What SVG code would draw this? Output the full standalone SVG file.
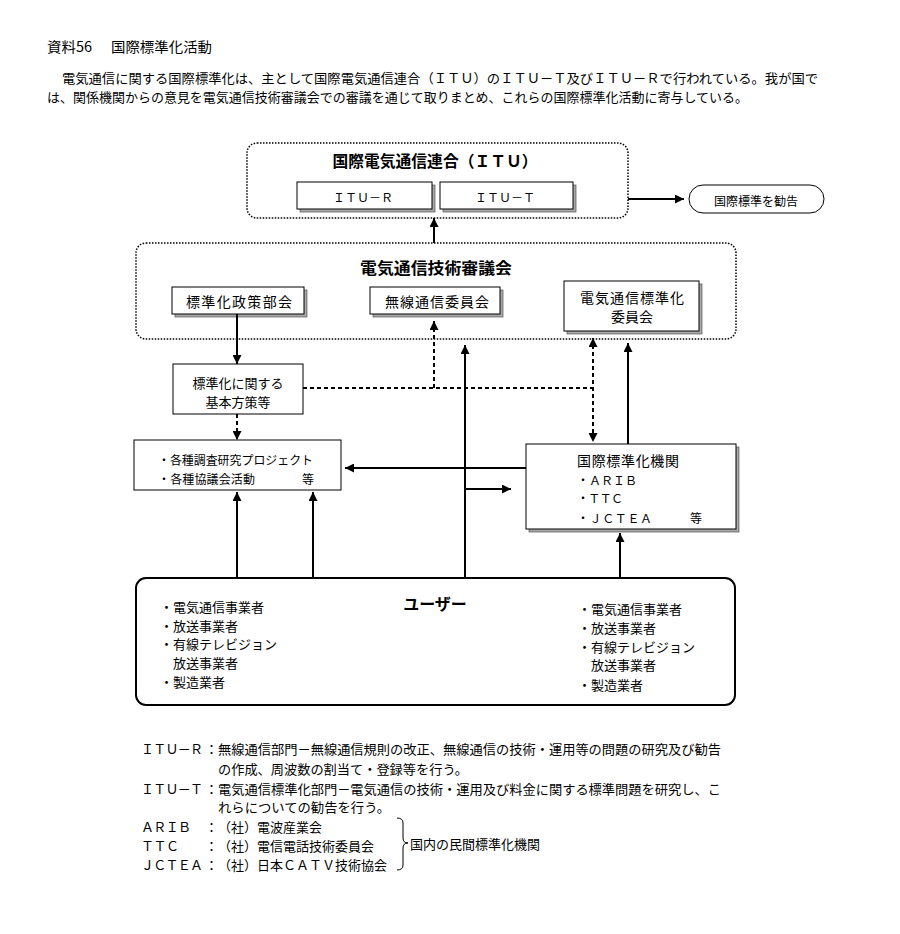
<svg xmlns="http://www.w3.org/2000/svg" width="900" height="934" viewBox="0 0 900 934">
<style>
text{font-family:"Noto Sans CJK JP","Noto Sans",sans-serif;fill:#000;dominant-baseline:central}
.t13{font-size:13px}
.t12{font-size:12px}
.t14{font-size:14px}
.big{font-size:16px;font-weight:bold}
.dotbox{fill:none;stroke:#000;stroke-width:1.5;stroke-dasharray:1.5 1.5}
.box{fill:#fff;stroke:#000;stroke-width:1}
.shadow{fill:#a8a8a8;stroke:#555;stroke-width:0.7}
.ln{fill:none;stroke:#000;stroke-width:2}
.dash{fill:none;stroke:#000;stroke-width:2;stroke-dasharray:4 3}
.mid{text-anchor:middle}
</style>
<defs>
<marker id="ah" viewBox="0 0 10 10" refX="10" refY="5" markerWidth="10" markerHeight="9" markerUnits="userSpaceOnUse" orient="auto-start-reverse">
<path d="M0,0 L10,5 L0,10 z" fill="#000"/>
</marker>
</defs>
<rect width="900" height="934" fill="#fff"/>

<g id="header">
<text class="t14" x="47" y="46" textLength="45" lengthAdjust="spacingAndGlyphs">資料56</text>
<text class="t14" x="111" y="46" textLength="101" lengthAdjust="spacingAndGlyphs">国際標準化活動</text>
<text class="t13" x="62" y="77" textLength="756" lengthAdjust="spacingAndGlyphs">電気通信に関する国際標準化は、主として国際電気通信連合（ＩＴＵ）のＩＴＵ－Ｔ及びＩＴＵ－Ｒで行われている。我が国で</text>
<text class="t13" x="47" y="96" textLength="701" lengthAdjust="spacingAndGlyphs">は、関係機関からの意見を電気通信技術審議会での審議を通じて取りまとめ、これらの国際標準化活動に寄与している。</text>
</g>

<g id="itu">
<rect class="dotbox" x="247" y="143" width="381" height="75" rx="10"/>
<text class="big mid" x="435" y="160" textLength="205" lengthAdjust="spacingAndGlyphs">国際電気通信連合（ＩＴＵ）</text>
</g>
<g id="itu-r">
<rect class="shadow" x="300" y="185" width="135" height="27"/>
<rect class="box" x="297" y="182" width="135" height="27"/>
<text class="t12 mid" x="363" y="196" textLength="60" lengthAdjust="spacing">ＩＴＵ－Ｒ</text>
</g>
<g id="itu-t">
<rect class="shadow" x="443" y="185" width="133" height="27"/>
<rect class="box" x="440" y="182" width="133" height="27"/>
<text class="t12 mid" x="505" y="196" textLength="60" lengthAdjust="spacing">ＩＴＵ－Ｔ</text>
</g>
<g id="recommend">
<rect class="box" x="689" y="185" width="135" height="28" rx="14"/>
<text class="t12 mid" x="756" y="200">国際標準を勧告</text>
</g>

<g id="council">
<rect class="dotbox" x="136" y="243" width="600" height="96" rx="10"/>
<text class="big mid" x="436" y="267" textLength="152" lengthAdjust="spacingAndGlyphs">電気通信技術審議会</text>
</g>
<g id="policy">
<rect class="shadow" x="175" y="290" width="132" height="27"/>
<rect class="box" x="172" y="287" width="132" height="27"/>
<text class="t14 mid" x="239" y="301" textLength="106" lengthAdjust="spacing">標準化政策部会</text>
</g>
<g id="radio">
<rect class="shadow" x="373" y="290" width="130" height="27"/>
<rect class="box" x="370" y="287" width="130" height="27"/>
<text class="t14 mid" x="437" y="301" textLength="104" lengthAdjust="spacing">無線通信委員会</text>
</g>
<g id="telecom-std">
<rect class="shadow" x="567" y="284" width="135" height="50"/>
<rect class="box" x="564" y="281" width="135" height="50"/>
<text class="t14 mid" x="632" y="297" textLength="104" lengthAdjust="spacing">電気通信標準化</text>
<text class="t14 mid" x="632" y="316" textLength="42" lengthAdjust="spacing">委員会</text>
</g>

<g id="basic-policy">
<rect class="box" x="173" y="364" width="130" height="50"/>
<text class="t13 mid" x="238" y="382">標準化に関する</text>
<text class="t13 mid" x="238" y="401">基本方策等</text>
</g>

<g id="projects">
<rect class="box" x="134" y="440" width="207" height="50"/>
<text class="t12" x="158" y="459" textLength="155" lengthAdjust="spacingAndGlyphs">・各種調査研究プロジェクト</text>
<text class="t12" x="158" y="478" textLength="97" lengthAdjust="spacing">・各種協議会活動</text>
<text class="t12" x="302" y="478">等</text>
</g>

<g id="intl-org">
<rect class="shadow" x="529" y="447" width="210" height="85"/>
<rect class="box" x="526" y="444" width="210" height="85"/>
<text class="t14" x="577" y="460" textLength="102" lengthAdjust="spacing">国際標準化機関</text>
<text class="t12" x="577" y="479" textLength="60" lengthAdjust="spacing">・ＡＲＩＢ</text>
<text class="t12" x="577" y="497" textLength="46" lengthAdjust="spacing">・ＴＴＣ</text>
<text class="t12" x="577" y="517" textLength="75" lengthAdjust="spacing">・ＪＣＴＥＡ</text>
<text class="t12" x="690" y="517">等</text>
</g>

<g id="users">
<rect x="136" y="578" width="599" height="127" rx="10" fill="#fff" stroke="#000" stroke-width="2"/>
<text class="big mid" x="435" y="603">ユーザー</text>
<text class="t13" x="160" y="606">・電気通信事業者</text>
<text class="t13" x="160" y="625">・放送事業者</text>
<text class="t13" x="160" y="643">・有線テレビジョン</text>
<text class="t13" x="160" y="662">　放送事業者</text>
<text class="t13" x="160" y="681">・製造業者</text>
<text class="t13" x="578" y="608">・電気通信事業者</text>
<text class="t13" x="578" y="627">・放送事業者</text>
<text class="t13" x="578" y="646">・有線テレビジョン</text>
<text class="t13" x="578" y="664">　放送事業者</text>
<text class="t13" x="578" y="684">・製造業者</text>
</g>

<g id="connectors">
<line class="ln" x1="628" y1="199" x2="684" y2="199" marker-end="url(#ah)"/>
<line class="ln" x1="434" y1="243" x2="434" y2="218" marker-end="url(#ah)"/>
<line class="ln" x1="237" y1="314" x2="237" y2="364" marker-end="url(#ah)"/>
<line class="dash" x1="237" y1="414" x2="237" y2="440" marker-end="url(#ah)"/>
<polyline class="dash" points="303,388 593,388"/>
<line class="dash" x1="434" y1="388" x2="434" y2="321" marker-end="url(#ah)"/>
<line class="dash" x1="593" y1="338" x2="593" y2="442" marker-start="url(#ah)" marker-end="url(#ah)"/>
<line class="ln" x1="465" y1="578" x2="465" y2="345" marker-end="url(#ah)"/>
<line class="ln" x1="628" y1="444" x2="628" y2="343" marker-end="url(#ah)"/>
<line class="ln" x1="526" y1="468" x2="345" y2="468" marker-end="url(#ah)"/>
<line class="ln" x1="465" y1="489" x2="511" y2="489" marker-end="url(#ah)"/>
<line class="ln" x1="237" y1="578" x2="237" y2="492" marker-end="url(#ah)"/>
<line class="ln" x1="313" y1="578" x2="313" y2="492" marker-end="url(#ah)"/>
<line class="ln" x1="620" y1="578" x2="620" y2="533" marker-end="url(#ah)"/>
</g>

<g id="notes">
<text class="t13" x="141" y="748" textLength="62" lengthAdjust="spacing">ＩＴＵ－Ｒ</text>
<text class="t13" x="205" y="748">：</text>
<text class="t13" x="218" y="748" textLength="503" lengthAdjust="spacingAndGlyphs">無線通信部門－無線通信規則の改正、無線通信の技術・運用等の問題の研究及び勧告</text>
<text class="t13" x="218" y="768" textLength="250" lengthAdjust="spacingAndGlyphs">の作成、周波数の割当て・登録等を行う。</text>
<text class="t13" x="141" y="788" textLength="62" lengthAdjust="spacing">ＩＴＵ－Ｔ</text>
<text class="t13" x="205" y="788">：</text>
<text class="t13" x="218" y="788" textLength="503" lengthAdjust="spacingAndGlyphs">電気通信標準化部門－電気通信の技術・運用及び料金に関する標準問題を研究し、こ</text>
<text class="t13" x="218" y="806" textLength="172" lengthAdjust="spacingAndGlyphs">れらについての勧告を行う。</text>
<text class="t13" x="141" y="826" textLength="50" lengthAdjust="spacing">ＡＲＩＢ</text>
<text class="t13" x="205" y="826">：</text>
<text class="t13" x="218" y="826">（社）電波産業会</text>
<text class="t13" x="141" y="845" textLength="38" lengthAdjust="spacing">ＴＴＣ</text>
<text class="t13" x="205" y="845">：</text>
<text class="t13" x="218" y="845">（社）電信電話技術委員会</text>
<text class="t13" x="141" y="864" textLength="62" lengthAdjust="spacing">ＪＣＴＥＡ</text>
<text class="t13" x="205" y="864">：</text>
<text class="t13" x="218" y="864">（社）日本ＣＡＴＶ技術協会</text>
<path d="M397,818 Q403,818 403,823 L403,838 Q403,843 408,843 Q403,843 403,848 L403,865 Q403,870 397,870" fill="none" stroke="#000" stroke-width="1"/>
<text class="t13" x="410" y="843">国内の民間標準化機関</text>
</g>
</svg>
